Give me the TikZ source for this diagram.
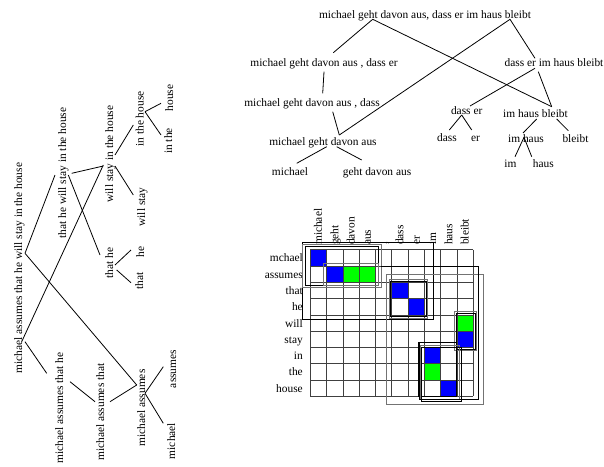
\documentclass[tikz,border=0pt]{standalone}
\usepackage{fontspec}
\setmainfont{Liberation Serif}
\begin{document}
\begin{tikzpicture}[x=1pt,y=-1pt,
  lbl/.style={inner sep=0pt,font=\fontsize{11.4}{13}\selectfont},
  vlbl/.style={lbl,rotate=90},
  edge/.style={line width=0.8pt,black},
  gline/.style={line width=0.8pt,black!75},
  rdark/.style={line width=0.9pt,black},
  rgray/.style={line width=0.9pt,black!55}]
\useasboundingbox (0,0) rectangle (604,466);
\newcommand{\conn}[3]{\coordinate (#1s) at (#2);\coordinate (#1e) at (#3);\draw[edge] (#1s) -- (#1e);}
% ---------- top tree ----------
\node[lbl,anchor=base] (t0) at (425,18) {michael geht davon aus, dass er im haus bleibt};
\node[lbl,anchor=base] (t1) at (324,66) {michael geht davon aus , dass er};
\node[lbl,anchor=base] (t2) at (312,106) {michael geht davon aus , dass};
\node[lbl,anchor=base] (t3) at (323,145) {michael geht davon aus};
\node[lbl,anchor=base] (t4) at (290,175) {michael};
\node[lbl,anchor=base] (t5) at (377,175) {geht davon aus};
\node[lbl,anchor=base] (t6) at (554,66) {dass er im haus bleibt};
\node[lbl,anchor=base] (t7) at (466.7,114) {dass er};
\node[lbl,anchor=base] (t8) at (535.5,117) {im haus bleibt};
\node[lbl,anchor=base] (t9) at (447,141) {dass};
\node[lbl,anchor=base] (t10) at (475.5,141) {er};
\node[lbl,anchor=base] (t11) at (526,142) {im haus};
\node[lbl,anchor=base] (t12) at (575.5,142) {bleibt};
\node[lbl,anchor=base] (t13) at (510.5,167) {im};
\node[lbl,anchor=base] (t14) at (543.3,167) {haus};
\conn{L1}{372.7,19.3}{333.3,52.7}
\conn{L2}{372.7,19.3}{551.7,106.7}
\conn{L3}{324,71.7}{322.7,93.3}
\conn{L4}{332.7,111.7}{339.3,135}
\conn{L5}{339.3,135}{510,19.3}
\conn{L6}{510,19.3}{535,58.3}
\conn{L7}{535,68.3}{470,106}
\conn{L8}{538.3,71.7}{551.7,106.7}
\conn{L9}{326.7,146.7}{296.7,163.3}
\conn{L10}{336.7,146.7}{361.7,160}
\conn{L11}{461.7,115}{449.3,130}
\conn{L12}{461.7,115}{471.7,130}
\conn{L13}{536.7,119}{523,133}
\conn{L14}{556.7,119}{568.3,130.7}
\conn{L15}{524,137.3}{515,156.7}
\conn{L16}{524,137.3}{531.7,156.7}
% ---------- left tree ----------
\node[vlbl,anchor=base] (e0) at (22,268) {michael assumes that he will stay in the house};
\node[vlbl,anchor=base] (e1) at (66,173) {that he will stay in the house};
\node[vlbl,anchor=base] (e2) at (113,154) {will stay in the house};
\node[vlbl,anchor=base] (e3) at (143.5,119) {in the house};
\node[vlbl,anchor=base] (e4) at (173,98) {house};
\node[vlbl,anchor=base] (e5) at (172,141) {in the};
\node[vlbl,anchor=base] (e6) at (145,207) {will stay};
\node[vlbl,anchor=base] (e7) at (113,263) {that he};
\node[vlbl,anchor=base] (e8) at (144,252) {he};
\node[vlbl,anchor=base] (e9) at (143,281) {that};
\node[vlbl,anchor=base] (e10) at (63,408) {michael assumes that he};
\node[vlbl,anchor=base] (e11) at (104,412) {michael assumes that};
\node[vlbl,anchor=base] (e12) at (145,408) {michael assumes};
\node[vlbl,anchor=base] (e13) at (176,369) {assumes};
\node[vlbl,anchor=base] (e14) at (175,441) {michael};
\conn{a}{25,253.3}{55,175}
\conn{b}{25,253.3}{136.7,385}
\conn{c}{71.7,173.3}{103.3,166}
\conn{d}{68.3,175}{100,255}
\conn{e}{21.7,341.7}{103.3,165}
\conn{f}{115,155}{133.3,125}
\conn{g}{115,166}{133.3,195}
\conn{h}{145,111.7}{161,103.3}
\conn{i}{145,111.7}{161,135}
\conn{j}{115,265}{131,250}
\conn{k}{116.7,270}{131,282.7}
\conn{m}{25,341.7}{46.7,373.3}
\conn{n}{70,381.7}{95,401.7}
\conn{o}{110,401.7}{136.7,385}
\conn{q}{145,393.3}{163.3,366.7}
\conn{r}{145,393.3}{163.3,423.3}
% ---------- matrix ----------
\def\gx{310.3}\def\gy{249.7}\def\cw{16.3}
\foreach \c/\r/\col in {0/0/blue,1/1/blue,2/1/green,3/1/green,5/2/blue,6/3/blue,9/4/green,9/5/blue,7/6/blue,7/7/green,8/8/blue}
  \fill[\col] (\gx+\c*\cw,\gy+\r*\cw) rectangle ++(\cw,\cw);
\foreach \i in {0,...,10} \draw[gline] (\gx+\i*\cw,\gy) -- (\gx+\i*\cw,\gy+9*\cw);
\foreach \i in {0,...,9} \draw[gline] (\gx,\gy+\i*\cw) -- (\gx+10*\cw,\gy+\i*\cw);
\foreach \w [count=\i from 0] in {michael,geht,davon,aus,{,},dass,er,im,haus,bleibt}
  \node[vlbl,anchor=base west] (col\i) at (\gx+\i*\cw+\cw/2+3.5,245) {\w};
\foreach \w [count=\i from 0] in {mchael,assumes,that,he,will,stay,in,the,house}
  \node[lbl,anchor=base east] (row\i) at (303,\gy+\i*\cw+\cw/2+4) {\w};
% block rectangles
\draw[rdark] (302,242) rectangle (433,319);
\draw[rgray] (302.5,244) rectangle (381,287);
\draw[rdark] (305,246.3) rectangle (378.3,285);
\draw[rgray] (323.7,263.7) rectangle (378.3,285);
\draw[rgray] (389,279.3) rectangle (427.7,318.3);
\draw[rdark] (390.7,281) rectangle (426,316.7);
\draw[rgray] (454,311.7) rectangle (476.7,350.7);
\draw[rdark] (456,313.3) rectangle (475,349.3);
\draw[rdark] (418.3,342.3) rectangle (456.7,396.7);
\draw[rgray] (420,345) rectangle (459,399.3);
\draw[rdark] (421.7,347) rectangle (461.7,401.7);
\draw[rgray] (386.7,274.3) rectangle (483.3,404.3);
\draw[rdark] (381,266) -- (478.7,266) -- (478.7,399.3) -- (419.3,399.3) -- (419.3,342.3);
\end{tikzpicture}
\end{document}
